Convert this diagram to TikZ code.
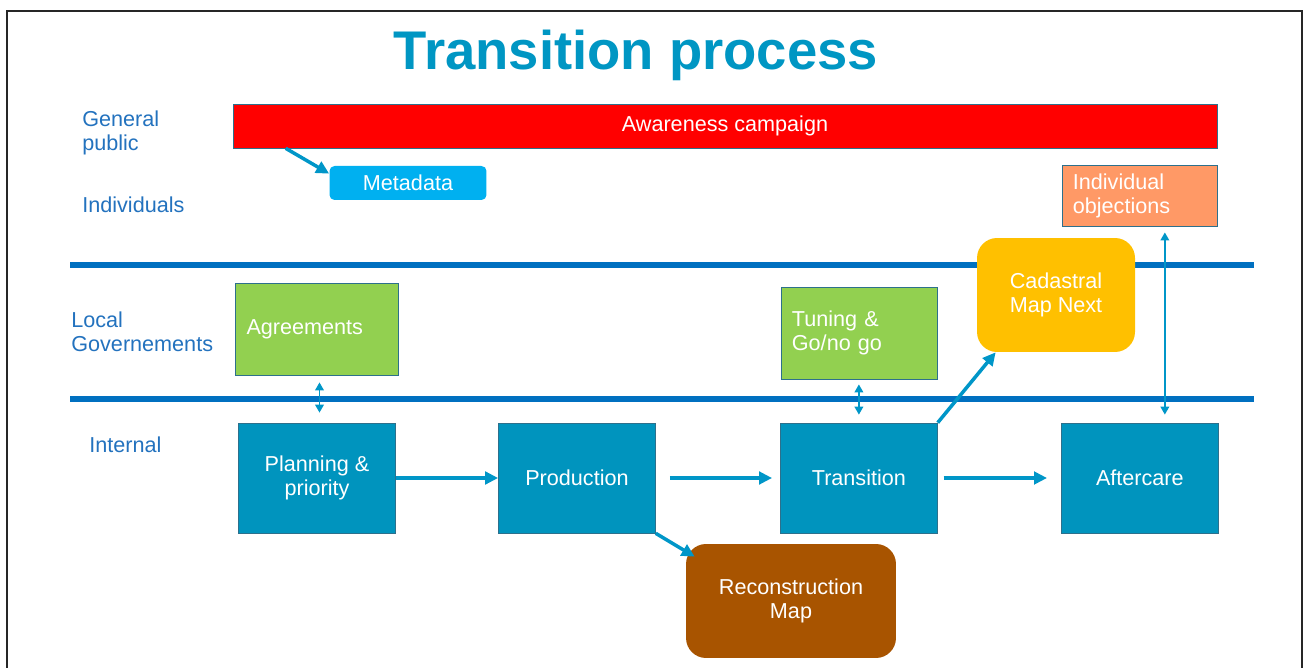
\documentclass[tikz,border=0pt]{standalone}
\usepackage{fontspec}
\setmainfont{Liberation Sans}
\usetikzlibrary{shapes,arrows,arrows.meta}
\usetikzlibrary{positioning}

\definecolor{headblue}{RGB}{0,150,195}
\definecolor{laneblue}{RGB}{35,114,190}
\definecolor{rulerblue}{RGB}{0,112,192}
\definecolor{stageblue}{RGB}{0,148,190}
\definecolor{edgeteal}{RGB}{45,112,140}
\definecolor{flowblue}{RGB}{0,150,200}
\definecolor{campred}{RGB}{255,0,0}
\definecolor{metacyan}{RGB}{0,176,240}
\definecolor{objsalmon}{RGB}{255,153,102}
\definecolor{agreegreen}{RGB}{146,208,80}
\definecolor{cadyellow}{RGB}{255,192,0}
\definecolor{reconbrown}{RGB}{168,84,0}

\newcommand{\bodysize}{\fontsize{12.3}{13.6}\selectfont}

\tikzset{
    heading/.style={
           text=headblue,
           font=\fontsize{31}{36}\selectfont\bfseries
           },
    lane/.style={
           anchor=west,
           inner sep=0pt,
           align=left,
           text=laneblue,
           font=\bodysize
           },
    stage/.style={
           rectangle,
           draw=edgeteal, thin,
           fill=stageblue,
           text=white,
           minimum width=3.14cm,
           minimum height=2.2cm,
           align=center,
           font=\bodysize
           },
    leftbox/.style={
           rectangle,
           draw=edgeteal, thin,
           text=white,
           inner xsep=0.22cm,
           align=left,
           font=\bodysize
           },
    softbox/.style={
           rectangle,
           rounded corners=0.4cm,
           text=white,
           align=center,
           font=\bodysize
           },
    ruler/.style={
           draw=rulerblue,
           line width=3.4pt
           },
    flow/.style={
           -{Triangle[length=0.26cm,width=0.25cm]},
           draw=flowblue,
           line width=2pt
           },
    link/.style={
           {Triangle[length=0.16cm,width=0.17cm]}-{Triangle[length=0.16cm,width=0.17cm]},
           draw=flowblue,
           line width=1.1pt
           }
}

\begin{document}
\begin{tikzpicture}[x=0.02cm, y=-0.02cm, node distance=3cm, on grid]
   \useasboundingbox (0,0) rectangle (1304,668);
   % frame and lane rulers
   \draw[line width=1.1pt, black!85] (7,668) |- (1302,11) -- (1302,668);
   \draw[ruler] (70,265) -- (1254,265);
   \draw[ruler] (70,399) -- (1254,399);

   \node[heading, anchor=base] (title) at (636,70) {Transition process};

   \node[lane] (public) at (82,133) {General\\public};
   \node[lane] (indiv) at (82,205) {Individuals};
   \node[lane] (local) at (71,332) {Local\\Governements};
   \node[lane] (internal) at (89,445) {Internal};

   \node[rectangle, draw=edgeteal, thin, fill=campred, text=white, font=\bodysize,
         minimum width=19.68cm, minimum height=0.88cm] (aware) at (725,126) {Awareness campaign};
   \node[softbox, rounded corners=0.1cm, fill=metacyan,
         minimum width=3.14cm, minimum height=0.68cm] (meta) at (408,183) {Metadata};

   \node[stage] (plan) at (317,478) {Planning \&\\priority};
   \node[stage] (prod) [right=5.2cm of plan] {Production};
   \node[stage] (trans) [right=5.64cm of prod] {Transition};
   \node[stage] (after) [right=5.62cm of trans] {Aftercare};

   \node[leftbox, fill=agreegreen, text width=2.82cm, minimum height=1.84cm] (agree) [above=2.98cm of plan] {Agreements};
   \node[leftbox, fill=agreegreen, text width=2.68cm, minimum height=1.84cm] (tune) [above=2.9cm of trans] {Tuning \&\\Go/no go};
   \node[leftbox, fill=objsalmon, text width=2.68cm, minimum height=1.22cm] (object) [above=5.65cm of after] {Individual\\objections};

   \node[softbox, fill=cadyellow, minimum width=3.16cm, minimum height=2.28cm] (cadas) at (1056,295) {Cadastral\\Map Next};
   \node[softbox, fill=reconbrown, minimum width=4.2cm, minimum height=2.28cm] (recon) at (791,601) {Reconstruction\\Map};

   % connectors
   \draw[flow] ([xshift=1.06cm]aware.south west) -- ([yshift=-0.16cm]meta.north west);
   \draw[flow] (plan.east) -- (prod.west);
   \draw[flow, shorten <=0.28cm, shorten >=0.16cm] (prod.east) -- (trans.west);
   \draw[flow, shorten <=0.12cm, shorten >=0.28cm] (trans.east) -- (after.west);
   \draw[flow] (trans.north east) -- ([xshift=0.38cm]cadas.south west);
   \draw[flow] (prod.south east) -- ([shift={(0.18cm,-0.26cm)}]recon.north west);
   \draw[link, shorten <=0.2cm, shorten >=0.14cm] ([xshift=0.05cm]plan.north) -- ([xshift=0.05cm]plan.north |- agree.south);
   \draw[link, shorten <=0.16cm, shorten >=0.1cm] (trans.north) -- (tune.south);
   \draw[link, shorten <=0.16cm, shorten >=0.12cm] ([xshift=0.5cm]after.north) -- ([xshift=0.5cm]after.north |- object.south);
\end{tikzpicture}
\end{document}
